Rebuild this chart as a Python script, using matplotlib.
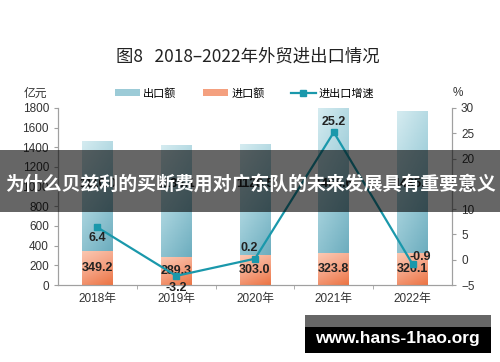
import numpy as np
import matplotlib
matplotlib.use("Agg")
import matplotlib.pyplot as plt
from matplotlib.colors import LinearSegmentedColormap
from matplotlib.patches import Rectangle, Patch
from matplotlib.lines import Line2D

plt.rcParams['font.family'] = ['Liberation Sans', 'Noto Sans CJK SC', 'DejaVu Sans']

# data
years = ['2018年', '2019年', '2020年', '2021年', '2022年']
imports = [349.2, 289.3, 303.0, 323.8, 326.1]
exports = [1110.0, 1136.1, 1128.5, 1465.6, 1435.0]
growth = [6.4, -3.2, 0.2, 25.2, -0.9]

fig = plt.figure(figsize=(5, 3.62), dpi=100)
ax = fig.add_axes([0.116, 0.2127, 0.788, 0.489])
ax2 = ax.twinx()

x = np.arange(len(years))
w = 0.39

blue_cm = LinearSegmentedColormap.from_list('b', ['#d4ebf0', '#a3d0db', '#6eaebf'])
red_cm = LinearSegmentedColormap.from_list('r', ['#fbc8b2', '#f5a283', '#ec7545'])

# darkness grows toward the bottom and the right of each bar
yy, xx = np.mgrid[0:1:40j, 0:1:20j]
dark = 0.7 * yy + 0.3 * xx

for i in range(len(years)):
    x0, x1 = x[i] - w / 2, x[i] + w / 2
    ax.bar(x[i], imports[i], w, color='#f4a07f', zorder=1)
    ax.bar(x[i], exports[i], w, bottom=imports[i], color='#9ccbd7', zorder=1)
    ax.imshow(dark, extent=[x0, x1, 0, imports[i]], aspect='auto',
              cmap=red_cm, vmin=0, vmax=1, zorder=2, origin='upper')
    ax.imshow(dark, extent=[x0, x1, imports[i], imports[i] + exports[i]], aspect='auto',
              cmap=blue_cm, vmin=0, vmax=1, zorder=2, origin='upper')

ax.set_xlim(-0.5, 4.5)
ax.set_ylim(0, 1800)
ax.set_yticks(range(0, 1801, 200))
ax2.set_ylim(-5, 30)
ax2.set_yticks(range(-5, 31, 5))

ax2.plot(x, growth, color='#1a98ab', lw=1.6, marker='s', ms=5, zorder=5)

# value labels
lab = dict(fontsize=9, fontweight='bold', color='#222222', ha='center', va='center')
for i in range(len(years)):
    ax.text(x[i], imports[i] / 2, f'{imports[i]:.1f}', zorder=6, **lab)
    ax.text(x[i], 1030, f'{exports[i]:.1f}', zorder=6, **lab)

off = [(0, -2.1), (0, -2.3), (-0.07, 2.2), (0, 2.1), (0.1, 1.5)]
for i in range(len(years)):
    ax2.text(x[i] + off[i][0], growth[i] + off[i][1], f'{growth[i]:.1f}', zorder=6, **lab)

# axes style
for a in (ax, ax2):
    a.spines['top'].set_visible(False)
    for s in ('left', 'right', 'bottom'):
        a.spines[s].set_color('#a0a0a0')
    a.tick_params(colors='#a0a0a0', labelcolor='#333333', labelsize=8.5, length=3)
ax.set_xticks(x)
ax.set_xticklabels(years, fontsize=8.5, color='#333333')
ax.tick_params(axis='x', length=0, pad=6)
ax.set_xticks(np.arange(0.5, 4.5, 1), minor=True)
ax.tick_params(axis='x', which='minor', length=3, color='#a0a0a0')

# title and units
fig.text(0.496, 0.843, '图8   2018–2022年外贸进出口情况', fontsize=12.5, ha='center', va='center',
         color='#222222', family=['Noto Sans CJK SC', 'DejaVu Sans'])
fig.text(0.07, 0.742, '亿元', fontsize=8.5, ha='center', va='center', color='#333333',
         family=['Noto Sans CJK SC'])
fig.text(0.916, 0.742, '%', fontsize=8.5, ha='center', va='center', color='#333333')

handles = [Patch(facecolor='#9ccbd7'), Patch(facecolor='#f4a07f'),
           Line2D([0], [0], color='#1a98ab', lw=1.6, marker='s', ms=4)]
fig.legend(handles, ['出口额', '进口额', '进出口增速'], ncol=3, frameon=False,
           loc='center', bbox_to_anchor=(0.49, 0.743),
           prop={'family': ['Noto Sans CJK SC'], 'size': 8},
           handlelength=2.2, handleheight=0.6, columnspacing=2.4, handletextpad=0.3)

# overlay banner
fig.patches.append(Rectangle((0.0, 1 - 212 / 362), 1.0, 62 / 362, transform=fig.transFigure,
                             facecolor='black', alpha=0.6, zorder=10))
fig.text(0.5, 1 - 184 / 362, '为什么贝兹利的买断费用对广东队的未来发展具有重要意义', fontsize=13.6,
         fontweight='bold', color='white', ha='center', va='center', zorder=11,
         family=['Noto Sans CJK SC'])

# watermark
fig.patches.append(Rectangle((305 / 500, 1 - 353 / 362), 186 / 500, 38 / 362,
                             transform=fig.transFigure, facecolor='black', zorder=10))
fig.patches.append(Rectangle((305 / 500, 1 - 327 / 362), 186 / 500, 12 / 362,
                             transform=fig.transFigure, facecolor='#666666', zorder=10))
fig.text(397 / 500, 1 - 339 / 362, 'www.hans-1hao.org', fontsize=12.5, fontweight='bold',
         color='white', ha='center', va='center', zorder=11)

fig.savefig('out.png', dpi=100)
